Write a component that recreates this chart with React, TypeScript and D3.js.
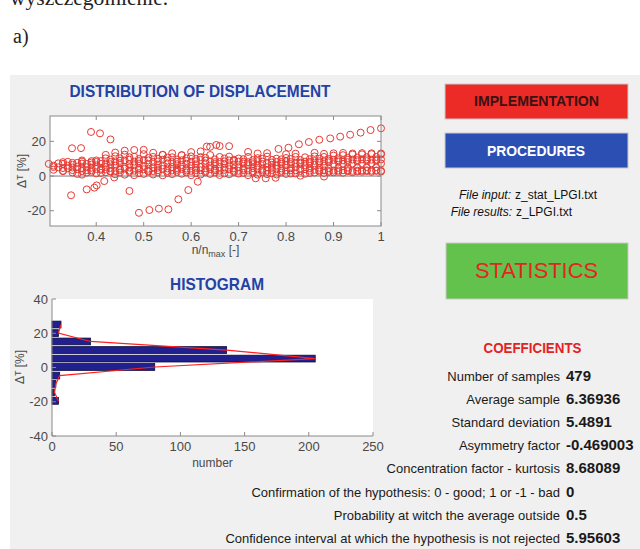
import React from 'react';
import * as d3 from 'd3';

const W = 640;
const H = 549;

// n/n_max columns of the displacement samples (two interleaved sets)
const gridA = [0.30, 0.32, 0.34, 0.36, 0.38, 0.40, 0.42, 0.44, 0.46, 0.48, 0.50, 0.52, 0.54, 0.56, 0.58, 0.60, 0.62, 0.64, 0.66, 0.68, 0.70, 0.72, 0.74, 0.76, 0.78, 0.80, 0.82, 0.84, 0.86, 0.88, 0.90, 0.92, 0.94, 0.96, 0.98, 1.00];
const gridB = [0.31, 0.33, 0.35, 0.37, 0.39, 0.41, 0.43, 0.45, 0.47, 0.49, 0.51, 0.53, 0.55, 0.57, 0.59, 0.61, 0.63, 0.65, 0.67, 0.69, 0.71, 0.73, 0.75, 0.77, 0.79, 0.81, 0.83, 0.85, 0.87, 0.89, 0.91, 0.93, 0.95, 0.97, 0.99];

// ΔT [%] for each column, one row per measurement track
const bandA1 = [7.0, 7.3, 8.2, 7.6, 7.0, 8.1, 7.2, 8.4, 9.0, 8.3, 9.2, 8.1, 9.4, 8.0, 9.1, 8.2, 9.3, 8.4, 8.1, 9.0, 8.3, 8.0, 8.6, 7.4, 8.2, 8.5, 7.6, 8.3, 8.7, 8.4, 9.3, 9.0, 9.5, 9.6, 9.4, 9.6];
const bandA2 = [null, 5.0, 6.0, 5.4, 5.1, 6.1, 5.2, 6.0, 5.3, 6.2, 5.8, 5.0, 6.1, 5.2, 6.3, 5.9, 5.1, 6.0, 5.2, 6.1, 5.0, 6.2, 5.9, 5.1, 6.0, 6.2, 5.3, 6.1, 6.4, 6.0, 6.8, 7.0, 7.2, 7.1, 7.3, 7.2];
const bandA3 = [null, null, 4.5, 4.0, 3.4, 4.1, 3.8, 3.0, 4.2, 3.1, 3.9, 2.9, 4.0, 3.2, 4.1, 3.0, 3.3, 4.0, 3.1, 3.9, 3.0, 3.2, 3.8, 3.1, 4.0, 3.2, 3.3, 3.9, 3.6, 3.2, 3.1, 3.3, 3.0, 3.2, 3.1, 3.0];
const bandA4 = [null, null, null, 1.2, 2.0, 1.5, 2.2, 1.0, 0.8, 0.5, 1.2, 0.9, 0.4, 1.1, 1.3, 0.5, 0.9, 1.2, 0.6, 1.0, 1.4, 0.5, 0.8, 1.1, 0.9, 1.2, 1.5, 1.3, 2.0, 1.8, 2.1, 1.9, 2.2, 2.5, 2.4, 2.6];
const bandA5 = [null, null, null, null, null, 9.0, 10.2, 11.4, 12.3, 11.1, 12.6, 11.0, 12.2, 10.8, 12.0, 11.3, 10.9, 12.1, 11.0, 11.2, 10.1, 11.0, 10.3, 11.2, 10.0, 10.4, 11.0, 10.8, 11.3, 11.0, 11.8, 12.0, 12.4, 12.5, 12.6, 12.5];
const bandA6 = [null, null, null, null, null, null, 12.2, 13.5, 14.6, 15.0, 15.1, 13.4, 12.2, 13.1, 12.0, 13.8, 14.2, 16.8, 17.3, 17.2, null, 13.9, 13.0, 13.2, null, 12.6, 12.9, null, 13.4, 12.8, 13.1, 13.3, 13.0, 13.2, 13.1, 13.0];
const bandB1 = [6.0, 7.0, 6.5, 7.2, 6.6, 7.0, 6.8, 7.4, 6.9, 7.2, 7.0, 6.6, 7.3, 6.8, 7.1, 6.7, 7.3, 6.9, 7.0, 6.6, 7.2, 6.8, 7.0, 6.5, 7.1, 6.9, 7.2, 7.4, 7.6, 7.9, 8.2, 8.0, 8.4, 8.6, 8.8];
const bandB2 = [5.2, 4.6, 4.9, 4.4, 4.8, 4.2, 4.7, 4.3, 4.9, 4.5, 4.2, 4.8, 4.4, 4.6, 4.3, 4.7, 4.5, 4.2, 4.8, 4.4, 4.3, 4.6, 4.2, 4.7, 4.4, 4.5, 4.3, 4.6, 4.8, 4.5, 4.7, 4.9, 5.0, 5.2, 5.1];
const bandB3 = [null, 2.8, 2.0, 0.8, 2.4, 1.8, 2.6, 2.0, 2.3, 1.6, 2.5, 2.0, 1.8, 2.4, 2.1, 1.7, 2.2, 2.0, 1.5, 2.3, 1.8, 1.9, 2.2, 1.6, 2.0, 1.4, 0.2, 1.8, 2.6, 2.3, 2.4, 2.8, 2.6, 2.9, 3.0];
const bandB4 = [null, null, null, 9.0, 8.6, null, 9.4, 10.2, 10.8, 9.8, 10.4, 9.9, 10.6, 9.5, 10.2, 9.8, 10.5, 9.6, 10.1, 9.4, 9.7, 9.2, 9.9, 9.3, 9.6, 9.8, 9.2, 9.7, 10.0, 9.8, 10.2, 10.4, 10.6, 10.8, 11.0];
const bandB5 = [3.6, 3.0, 3.4, 2.9, 3.3, 3.6, 2.8, 3.5, 3.1, 3.7, 3.0, 3.4, 2.9, 3.6, 3.2, 3.5, 2.9, 3.3, 3.6, 3.0, 3.4, 2.8, 3.2, 3.5, 3.0, 3.3, 2.9, 3.1, 3.4, 3.0, 3.2, 3.4, 3.1, 3.3, 3.2];
const bandB6 = [null, 8.0, 7.6, 8.3, 7.8, 8.6, 8.1, 8.8, 9.4, 8.6, 9.0, 8.4, 8.9, 8.2, 8.7, 8.5, 8.9, 8.0, 8.4, 8.7, 8.2, 7.9, 8.3, 7.8, 8.1, 8.0, 7.7, 8.2, 8.5, 8.9, 9.1, 9.3, 9.2, 9.6, 9.5];

// Isolated samples away from the main band: [n/n_max, ΔT]
const outliers: [number, number][] = [
  [0.347, -11.1], [0.349, 16.0], [0.368, 16.1], [0.380, -7.7], [0.389, 25.4], [0.396, -6.7],
  [0.401, -5.4], [0.408, 24.6], [0.417, -2.9], [0.430, 21.1], [0.438, -0.8], [0.470, -8.6],
  [0.490, -21.2], [0.512, -19.6], [0.532, -18.8], [0.552, -19.2], [0.573, -13.4], [0.594, -8.1],
  [0.614, -3.3], [0.633, 17.0], [0.653, 17.9], [0.736, -1.3], [0.757, -1.3], [0.778, -1.0],
  [0.784, 15.6], [0.805, 16.3], [0.827, 18.3], [0.848, 19.6], [0.870, 20.9], [0.893, 21.7],
  [0.914, 22.7], [0.935, 23.8], [0.957, 25.0], [0.978, 26.5], [1.0, 27.5], [0.88, -0.3],
];

// Histogram of ΔT: bin centres and sample counts
const histCenters = [-19.5, -14.6, -9.6, -4.7, 0.3, 5.2, 10.2, 15.2, 20.1, 25.1];
const histCounts = [5, 2, 3, 6, 80, 205, 136, 30, 5, 7];
const histBinWidth = 4.95;

const scatterXTicks = [0.4, 0.5, 0.6, 0.7, 0.8, 0.9, 1];
const scatterYTicks = [-20, 0, 20];
const histXTicks = [0, 50, 100, 150, 200, 250];
const histYTicks = [-40, -20, 0, 20, 40];

const coefLabels = [
  'Number of samples',
  'Average sample',
  'Standard deviation',
  'Asymmetry factor',
  'Concentration factor - kurtosis',
  'Confirmation of the hypothesis: 0 - good; 1 or -1 - bad',
  'Probability at witch the average outside',
  'Confidence interval at which the hypothesis is not rejected',
];
const coefValues = ['479', '6.36936', '5.4891', '-0.469003', '8.68089', '0', '0.5', '5.95603'];

const SANS = "'Liberation Sans', Arial, Helvetica, sans-serif";
const NARROW = "'Liberation Sans Narrow', 'Arial Narrow', 'Liberation Sans', Arial, sans-serif";
const SERIF = "'Liberation Serif', 'Times New Roman', serif";

const AXIS = '#8a8a8a';
const TICK_TEXT = '#4a4a4a';
const TITLE_BLUE = '#2342a6';

function collect(grid: number[], rows: (number | null)[][]): [number, number][] {
  const out: [number, number][] = [];
  rows.forEach((row) => row.forEach((v, i) => { if (v !== null) out.push([grid[i], v]); }));
  return out;
}

const scatterPoints: [number, number][] = [
  ...collect(gridA, [bandA1, bandA2, bandA3, bandA4, bandA5, bandA6]),
  ...collect(gridB, [bandB1, bandB2, bandB3, bandB4, bandB5, bandB6]),
  ...outliers,
];

function DeltaTLabel({ x, y }: { x: number; y: number }) {
  return (
    <text transform={`translate(${x},${y}) rotate(-90)`} textAnchor="middle" fontFamily={NARROW} fontSize={12} fill={TICK_TEXT}>
      Δ<tspan fontSize={9} dy={-3}>T</tspan><tspan dy={3}> [%]</tspan>
    </text>
  );
}

export default function App() {
  // scatter axes
  const sx = d3.scaleLinear().domain([0.3026, 1]).range([50, 381]);
  const sy = d3.scaleLinear().domain([-28.8, 34.6]).range([226, 116]);
  const [sx0, sx1] = sx.range();
  const [sy0, sy1] = sy.range();

  // histogram axes
  const hx = d3.scaleLinear().domain([0, 250]).range([52, 373]);
  const hy = d3.scaleLinear().domain([-40, 40]).range([436, 299]);
  const barHalf = (histBinWidth * 0.8) / 2;
  const polygon = d3.line<number>()
    .x((_, i) => hx(histCounts[i]))
    .y((c) => hy(c))(histCenters) as string;

  const rowY = (i: number) => 381 + i * 23.1;

  return (
    <svg width={W} height={H} style={{ position: 'fixed', left: 0, top: 0, background: '#fff' }}>
      <rect x={0} y={0} width={W} height={H} fill="#fff" />
      <text x={10} y={5} fontFamily={SERIF} fontSize={21.5} fill="#222">wyszczególnienie.</text>
      <text x={13} y={43} fontFamily={SERIF} fontSize={20} fill="#222">a)</text>

      {/* window panel */}
      <rect x={10} y={75} width={W - 10} height={H - 75} fill="#f0f0f0" />

      {/* ---- Distribution of displacement ---- */}
      <text x={200} y={97} textAnchor="middle" fontFamily={SANS} fontWeight="bold" fontSize={17}
        fill={TITLE_BLUE} textLength={261} lengthAdjust="spacingAndGlyphs">DISTRIBUTION OF DISPLACEMENT</text>
      <rect x={sx0} y={sy1} width={sx1 - sx0} height={sy0 - sy1} fill="#fff" />
      <line x1={sx0} x2={sx1} y1={sy(0)} y2={sy(0)} stroke="#7a7a7a" strokeWidth={1} />
      <g fill="none" stroke="#e63a34" strokeWidth={1}>
        {scatterPoints.map(([x, y], i) => (
          <circle key={i} cx={sx(x)} cy={sy(y)} r={3.5} />
        ))}
      </g>
      <rect x={sx0} y={sy1} width={sx1 - sx0} height={sy0 - sy1} fill="none" stroke={AXIS} strokeWidth={1} />
      {scatterXTicks.map((t) => (
        <g key={`sx${t}`}>
          <line x1={sx(t)} x2={sx(t)} y1={sy0} y2={sy0 - 4} stroke={AXIS} />
          <line x1={sx(t)} x2={sx(t)} y1={sy1} y2={sy1 + 4} stroke={AXIS} />
          <text x={sx(t)} y={sy0 + 15} textAnchor="middle" fontFamily={NARROW} fontSize={13} fill={TICK_TEXT}>{String(t)}</text>
        </g>
      ))}
      {scatterYTicks.map((t) => (
        <g key={`sy${t}`}>
          <line x1={sx0} x2={sx0 + 4} y1={sy(t)} y2={sy(t)} stroke={AXIS} />
          <line x1={sx1} x2={sx1 - 4} y1={sy(t)} y2={sy(t)} stroke={AXIS} />
          <text x={sx0 - 4} y={sy(t)} dy="0.35em" textAnchor="end" fontFamily={NARROW} fontSize={13} fill={TICK_TEXT}>{String(t)}</text>
        </g>
      ))}
      <DeltaTLabel x={26} y={171} />
      <text x={(sx0 + sx1) / 2} y={254} textAnchor="middle" fontFamily={NARROW} fontSize={12} fill={TICK_TEXT}>
        n/n<tspan fontSize={9} dy={3}>max</tspan><tspan dy={-3}> [-]</tspan>
      </text>

      {/* ---- Histogram ---- */}
      <text x={217} y={290} textAnchor="middle" fontFamily={SANS} fontWeight="bold" fontSize={17}
        fill={TITLE_BLUE} textLength={94} lengthAdjust="spacingAndGlyphs">HISTOGRAM</text>
      <rect x={hx(0)} y={hy(40)} width={hx(250) - hx(0)} height={hy(-40) - hy(40)} fill="#fff" />
      <g>
        {histCounts.map((c, i) => (
          <rect key={i} x={hx(0)} y={hy(histCenters[i] + barHalf)} width={hx(c) - hx(0)}
            height={hy(histCenters[i] - barHalf) - hy(histCenters[i] + barHalf)}
            fill="#20208e" stroke="#0c0c3a" strokeWidth={0.8} />
        ))}
      </g>
      <path d={polygon} fill="none" stroke="#ff2020" strokeWidth={1.2} />
      <line x1={hx(0)} x2={hx(0)} y1={hy(40)} y2={hy(-40)} stroke={AXIS} />
      <line x1={hx(0)} x2={hx(250)} y1={hy(-40)} y2={hy(-40)} stroke={AXIS} />
      {histXTicks.map((t) => (
        <g key={`hx${t}`}>
          <line x1={hx(t)} x2={hx(t)} y1={hy(-40)} y2={hy(-40) - 4} stroke={AXIS} />
          <text x={hx(t)} y={hy(-40) + 15} textAnchor="middle" fontFamily={NARROW} fontSize={13} fill={TICK_TEXT}>{String(t)}</text>
        </g>
      ))}
      {histYTicks.map((t) => (
        <g key={`hy${t}`}>
          <line x1={hx(0)} x2={hx(0) + 4} y1={hy(t)} y2={hy(t)} stroke={AXIS} />
          <text x={hx(0) - 4} y={hy(t)} dy="0.35em" textAnchor="end" fontFamily={NARROW} fontSize={13} fill={TICK_TEXT}>{String(t)}</text>
        </g>
      ))}
      <DeltaTLabel x={24} y={367} />
      <text x={(hx(0) + hx(250)) / 2} y={467} textAnchor="middle" fontFamily={NARROW} fontSize={12} fill={TICK_TEXT}>number</text>

      {/* ---- Buttons ---- */}
      <rect x={445} y={84} width={183} height={35} fill="#ec2a26" stroke="#c9c9c9" />
      <text x={536.5} y={101.5} dy="0.35em" textAnchor="middle" fontFamily={SANS} fontWeight="bold" fontSize={14}
        fill="#3a1212" textLength={125} lengthAdjust="spacingAndGlyphs">IMPLEMENTATION</text>
      <rect x={445} y={133} width={183} height={35} fill="#2c4fb4" stroke="#c9c9c9" />
      <text x={536} y={151} dy="0.35em" textAnchor="middle" fontFamily={SANS} fontWeight="bold" fontSize={15}
        fill="#ffffff" textLength={98} lengthAdjust="spacingAndGlyphs">PROCEDURES</text>

      <text x={511} y={199} textAnchor="end" fontFamily={SANS} fontStyle="italic" fontSize={12} fill="#111">File input:</text>
      <text x={515} y={199} fontFamily={SANS} fontSize={12} fill="#111">z_stat_LPGI.txt</text>
      <text x={512} y={216} textAnchor="end" fontFamily={SANS} fontStyle="italic" fontSize={12} fill="#111">File results:</text>
      <text x={516} y={216} fontFamily={SANS} fontSize={12} fill="#111">z_LPGI.txt</text>

      <rect x={446} y={243} width={182} height={56} fill="#62c24b" stroke="#c9c9c9" />
      <text x={536.5} y={270} dy="0.35em" textAnchor="middle" fontFamily={SANS} fontSize={22}
        fill="#e52424" textLength={123} lengthAdjust="spacingAndGlyphs">STATISTICS</text>

      {/* ---- Coefficients ---- */}
      <text x={532.5} y={353} textAnchor="middle" fontFamily={SANS} fontWeight="bold" fontSize={15}
        fill="#e42222" textLength={98} lengthAdjust="spacingAndGlyphs">COEFFICIENTS</text>
      {coefLabels.map((label, i) => (
        <g key={label}>
          <text x={560} y={rowY(i)} textAnchor="end" fontFamily={SANS} fontSize={13} fill="#1a1a1a">{label}</text>
          <text x={566} y={rowY(i)} fontFamily={SANS} fontWeight="bold" fontSize={15} fill="#1a1a1a">{coefValues[i]}</text>
        </g>
      ))}
    </svg>
  );
}
